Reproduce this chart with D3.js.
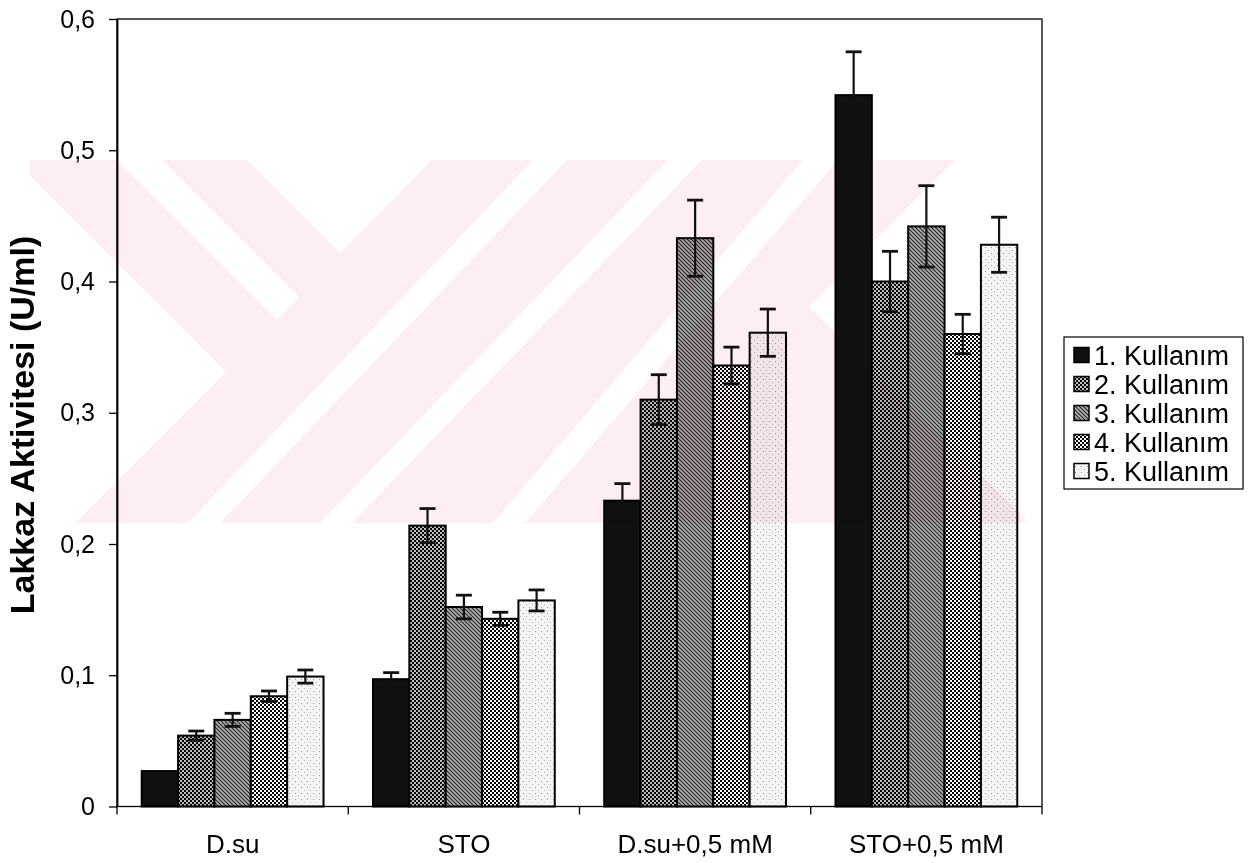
<!DOCTYPE html>
<html>
<head>
<meta charset="utf-8">
<script src="https://cdn.jsdelivr.net/npm/d3@7"></script>
<style>
    body { margin: 0; background: #fff; }
    svg { display: block; }
    text { font-family: "Liberation Sans", Arial, sans-serif; fill: #000; }
</style>
</head>
<body>
<svg id="chart" width="1260" height="863"></svg>
<script>
/////////////////////////////////
// Lakkaz aktivitesi, 5 kullanım, grouped bars with error bars.
//

const categories = ["D.su", "STO", "D.su+0,5 mM", "STO+0,5 mM"];
const seriesNames = ["1. Kullanım", "2. Kullanım", "3. Kullanım", "4. Kullanım", "5. Kullanım"];

// Mean activity (U/ml) per category, one array per use.
const kullanim1 = [0.027, 0.097, 0.233, 0.542];
const kullanim2 = [0.054, 0.214, 0.310, 0.400];
const kullanim3 = [0.066, 0.152, 0.433, 0.442];
const kullanim4 = [0.084, 0.143, 0.336, 0.360];
const kullanim5 = [0.099, 0.157, 0.361, 0.428];

// Error bar half-lengths.
const hata1 = [0, 0.005, 0.013, 0.033];
const hata2 = [0.0035, 0.013, 0.019, 0.023];
const hata3 = [0.005, 0.009, 0.029, 0.031];
const hata4 = [0.004, 0.005, 0.014, 0.015];
const hata5 = [0.005, 0.008, 0.018, 0.021];

const yTicks = [0, 0.1, 0.2, 0.3, 0.4, 0.5, 0.6];
const yTitle = "Lakkaz Aktivitesi (U/ml)";

document.addEventListener("DOMContentLoaded", () => {

    const svg = d3.select("#chart");
    const plot = { left: 117, right: 1042, top: 19, bottom: 806.5 };

    const seriesValues = [kullanim1, kullanim2, kullanim3, kullanim4, kullanim5];
    const seriesErrors = [hata1, hata2, hata3, hata4, hata5];
    const fills = ["#111", "url(#p2)", "url(#p3)", "url(#p4)", "url(#p5)"];

    const series = seriesNames.map((name, i) => ({
        name: name,
        fill: fills[i],
        points: categories.map((cat, j) => ({ cat: cat, name: name, v: seriesValues[i][j], e: seriesErrors[i][j] }))
    }));

    const x = d3.scaleBand().domain(categories).range([plot.left, plot.right]);
    const xInner = d3.scaleBand().domain(seriesNames).range([0, x.bandwidth()]).paddingOuter(0.68);
    const y = d3.scaleLinear().domain([0, 0.6]).range([plot.bottom, plot.top]);

    // Fill patterns (scanned hatching).
    const defs = svg.append("defs");

    const p2 = defs.append("pattern").attr("id", "p2").attr("patternUnits", "userSpaceOnUse")
        .attr("width", 4).attr("height", 4);
    p2.append("rect").attr("width", 4).attr("height", 4).attr("fill", "#000");
    p2.append("circle").attr("cx", 1).attr("cy", 1).attr("r", 1).attr("fill", "#fff");
    p2.append("circle").attr("cx", 3).attr("cy", 3).attr("r", 1).attr("fill", "#fff");

    const p3 = defs.append("pattern").attr("id", "p3").attr("patternUnits", "userSpaceOnUse")
        .attr("width", 4).attr("height", 4);
    p3.append("rect").attr("width", 4).attr("height", 4).attr("fill", "#b0b0b0");
    p3.append("path").attr("d", "M0,0L4,4M-1,3L1,5M3,-1L5,1")
        .attr("stroke", "#222").attr("stroke-width", 1.1);

    const p4 = defs.append("pattern").attr("id", "p4").attr("patternUnits", "userSpaceOnUse")
        .attr("width", 4).attr("height", 4);
    p4.append("rect").attr("width", 4).attr("height", 4).attr("fill", "#fff");
    p4.append("rect").attr("x", 0).attr("y", 0).attr("width", 2).attr("height", 2).attr("fill", "#000");
    p4.append("rect").attr("x", 2).attr("y", 2).attr("width", 2).attr("height", 2).attr("fill", "#000");

    const p5 = defs.append("pattern").attr("id", "p5").attr("patternUnits", "userSpaceOnUse")
        .attr("width", 6).attr("height", 6);
    p5.append("rect").attr("width", 6).attr("height", 6).attr("fill", "#f4f4f4");
    p5.append("rect").attr("x", 1).attr("y", 1).attr("width", 1).attr("height", 1).attr("fill", "#999");
    p5.append("rect").attr("x", 4).attr("y", 4).attr("width", 1).attr("height", 1).attr("fill", "#bbb");

    // Bars.
    svg.append("g")
        .selectAll("g")
        .data(series)
        .join("g")
            .attr("fill", (d) => d.fill)
        .selectAll("rect")
        .data((d) => d.points)
        .join("rect")
            .attr("x", (d) => x(d.cat) + xInner(d.name))
            .attr("y", (d) => y(d.v))
            .attr("width", xInner.bandwidth())
            .attr("height", (d) => y(0) - y(d.v))
            .attr("stroke", "#000")
            .attr("stroke-width", 2);

    // Error bars.
    const errs = svg.append("g")
        .attr("stroke", "#111")
        .selectAll("g")
        .data(series.flatMap((s) => s.points).filter((d) => d.e > 0))
        .join("g")
            .attr("transform", (d) => `translate(${x(d.cat) + xInner(d.name) + xInner.bandwidth() / 2},0)`);

    errs.append("line")
        .attr("y1", (d) => y(d.v - d.e))
        .attr("y2", (d) => y(d.v + d.e))
        .attr("stroke-width", 2.2);
    errs.selectAll(".cap")
        .data((d) => [d.v - d.e, d.v + d.e])
        .join("line")
            .attr("class", "cap")
            .attr("x1", -8).attr("x2", 8)
            .attr("y1", (v) => y(v)).attr("y2", (v) => y(v))
            .attr("stroke-width", 2.8);

    // Plot frame.
    svg.append("rect")
        .attr("x", plot.left).attr("y", plot.top)
        .attr("width", plot.right - plot.left).attr("height", plot.bottom - plot.top)
        .attr("fill", "none").attr("stroke", "#000").attr("stroke-width", 1.3);

    // Y axis.
    const yAxis = svg.append("g")
        .attr("transform", `translate(${plot.left},0)`)
        .call(d3.axisLeft(y)
            .tickValues(yTicks)
            .tickFormat((d) => d === 0 ? "0" : d3.format(".1f")(d).replace(".", ","))
            .tickSize(8)
            .tickSizeOuter(0)
            .tickPadding(14));
    yAxis.select(".domain").attr("stroke", "#000").attr("stroke-width", 1.8);
    yAxis.selectAll(".tick line").attr("stroke", "#000").attr("stroke-width", 1.3);
    yAxis.selectAll("text").attr("font-size", 25).attr("font-family", null).attr("fill", "#000");

    // X axis: category labels plus boundary ticks.
    const xAxis = svg.append("g")
        .attr("transform", `translate(0,${plot.bottom})`)
        .call(d3.axisBottom(x).tickSize(0).tickPadding(28));
    xAxis.select(".domain").remove();
    xAxis.selectAll("text").attr("font-size", 26).attr("font-family", null).attr("fill", "#000");

    svg.append("g")
        .selectAll("line")
        .data(categories.map((c) => x(c)).concat([plot.right]))
        .join("line")
            .attr("x1", (d) => d).attr("x2", (d) => d)
            .attr("y1", plot.bottom).attr("y2", plot.bottom + 8)
            .attr("stroke", "#000").attr("stroke-width", 1.3);

    // Y axis title.
    svg.append("text")
        .attr("transform", "translate(22,425) rotate(-90)")
        .attr("text-anchor", "middle")
        .attr("dy", "0.36em")
        .attr("font-size", 34)
        .attr("font-weight", "bold")
        .text(yTitle);

    // Legend.
    const legend = svg.append("g");
    legend.append("rect")
        .attr("x", 1064).attr("y", 337).attr("width", 179).attr("height", 152)
        .attr("fill", "#fff").attr("stroke", "#000").attr("stroke-width", 1.2);
    const rows = legend.selectAll(".row")
        .data(series)
        .join("g")
            .attr("class", "row")
            .attr("transform", (d, i) => `translate(1074,${355 + i * 29})`);
    rows.append("rect")
        .attr("y", -7.5).attr("width", 15).attr("height", 15)
        .attr("fill", (d) => d.fill).attr("stroke", "#000").attr("stroke-width", 1.5);
    rows.append("text")
        .attr("x", 20).attr("dy", "0.36em")
        .attr("font-size", 27)
        .text((d) => d.name);

    // Faint pink watermark of the scanned page, multiplied over the chart.
    const gaps = [
        [[15, 160], [226, 372], [75, 523], [15, 523]],
        [[117, 160], [162, 160], [299, 297], [277, 320]],
        [[247, 160], [432, 160], [340, 253]],
        [[533, 160], [567, 160], [220, 523], [188, 523]],
        [[668, 160], [702, 160], [352, 523], [320, 523]],
        [[803, 160], [838, 160], [525, 523], [493, 523]],
        [[955, 160], [1025, 160], [1025, 518], [809, 307]]
    ];
    const mark = svg.append("g").style("mix-blend-mode", "multiply");
    mark.append("rect")
        .attr("x", 30).attr("y", 160).attr("width", 995).attr("height", 363)
        .attr("fill", "#fdeef1");
    mark.selectAll("polygon")
        .data(gaps)
        .join("polygon")
            .attr("points", (d) => d.map((p) => p.join(",")).join(" "))
            .attr("fill", "#fff");
});
</script>
</body>
</html>
